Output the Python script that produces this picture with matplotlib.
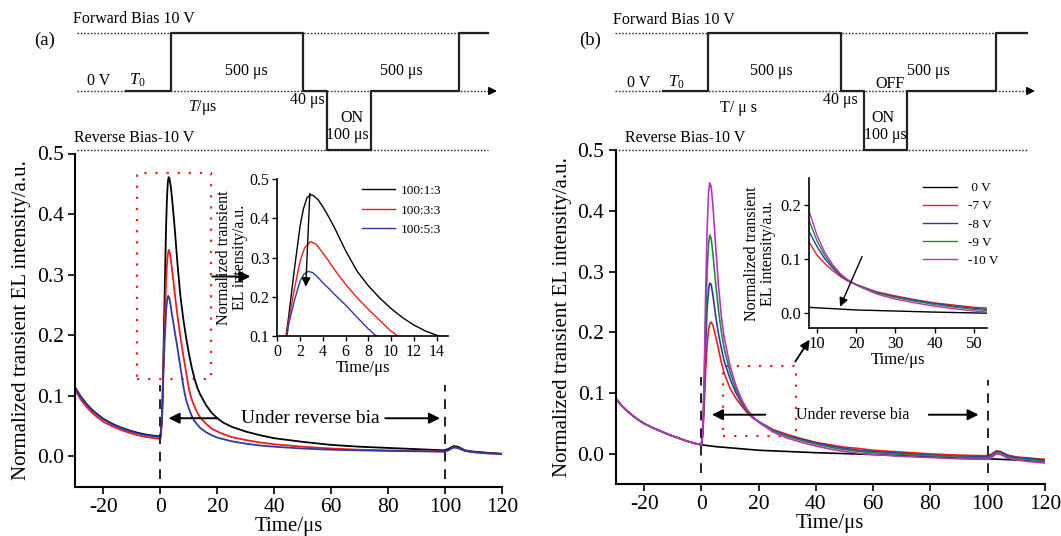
import matplotlib
matplotlib.use('Agg')
import matplotlib.pyplot as plt
from matplotlib.patches import Rectangle

plt.rcParams['font.family'] = ['Liberation Serif', 'DejaVu Serif']
plt.rcParams['mathtext.fontset'] = 'custom'
plt.rcParams['mathtext.rm'] = 'Liberation Serif'
plt.rcParams['mathtext.it'] = 'Liberation Serif:italic'
plt.rcParams['axes.unicode_minus'] = False

# ---------------- data: panel (a) ----------------
pre_t = [-30, -28, -26, -24, -22, -20, -17, -14, -11, -8, -5, -2, 0]
a_pre_black = [0.114, 0.099, 0.087, 0.077, 0.069, 0.062, 0.054, 0.048, 0.043, 0.039, 0.036, 0.034, 0.033]
a_pre_red = [0.110, 0.094, 0.082, 0.072, 0.064, 0.057, 0.050, 0.044, 0.039, 0.035, 0.032, 0.030, 0.029]
a_pre_blue = [0.114, 0.098, 0.086, 0.076, 0.068, 0.061, 0.053, 0.047, 0.042, 0.038, 0.035, 0.033, 0.032]

a_black_t = [0.5, 0.77, 1, 1.5, 2, 2.3, 2.6, 2.9, 3.2, 3.6, 4, 4.5, 5, 5.5, 6, 7, 8, 9, 10, 11, 12, 13, 14,
             16, 18, 20, 22, 25, 30, 35, 40, 50, 60, 70, 80, 90, 99.5, 101, 103, 104.5, 107, 110, 115, 120]
a_black = [0.06, 0.10, 0.15, 0.27, 0.38, 0.425, 0.452, 0.461, 0.458, 0.447, 0.43, 0.405, 0.378, 0.348,
           0.318, 0.266, 0.228, 0.197, 0.17, 0.147, 0.128, 0.113, 0.102, 0.085, 0.072, 0.063, 0.056, 0.049,
           0.041, 0.035, 0.030, 0.024, 0.019, 0.016, 0.014, 0.012, 0.010, 0.012, 0.017, 0.016, 0.010, 0.008,
           0.006, 0.0045]
a_red_t = [0.5, 0.8, 1, 1.5, 2, 2.4, 2.9, 3.4, 4, 4.5, 5, 5.5, 6, 7, 8, 9, 10, 10.5, 11, 12, 13, 14, 16, 18,
           20, 22, 25, 30, 35, 40, 50, 60, 70, 80, 90, 99.5, 101, 103, 104.5, 107, 110, 115, 120]
a_red = [0.055, 0.10, 0.14, 0.22, 0.29, 0.325, 0.341, 0.335, 0.312, 0.292, 0.271, 0.251, 0.232, 0.198, 0.168,
         0.14, 0.112, 0.102, 0.094, 0.082, 0.072, 0.064, 0.054, 0.046, 0.041, 0.037, 0.032, 0.027, 0.023,
         0.020, 0.016, 0.013, 0.011, 0.010, 0.009, 0.008, 0.010, 0.015, 0.014, 0.009, 0.007, 0.005, 0.004]
a_blue_t = [0.5, 0.85, 1, 1.5, 2, 2.35, 2.7, 3.1, 3.5, 4, 4.5, 5, 5.5, 6, 7, 8, 8.5, 9, 10, 11, 12, 14, 16, 18,
            20, 25, 30, 35, 40, 50, 60, 70, 80, 90, 99.5, 101, 103, 104.5, 107, 110, 115, 120]
a_blue = [0.055, 0.10, 0.13, 0.19, 0.24, 0.258, 0.265, 0.262, 0.252, 0.236, 0.222, 0.207, 0.193, 0.179,
          0.148, 0.118, 0.105, 0.094, 0.079, 0.067, 0.058, 0.047, 0.040, 0.035, 0.031, 0.025, 0.021, 0.018,
          0.016, 0.013, 0.011, 0.010, 0.009, 0.0085, 0.008, 0.010, 0.015, 0.014, 0.009, 0.007, 0.005, 0.004]
a_labels = ['100:1:3', '100:3:3', '100:5:3']

# ---------------- data: panel (b) ----------------
b_pre = [0.092, 0.080, 0.071, 0.063, 0.056, 0.050, 0.043, 0.037, 0.031, 0.026, 0.021, 0.017, 0.015]
b_black_t = [0, 5, 10, 20, 30, 40, 50, 60, 70, 80, 90, 100, 110, 120]
b_black = [0.015, 0.012, 0.010, 0.006, 0.004, 0.002, 0.0005, -0.001, -0.003, -0.005, -0.007, -0.008, -0.010, -0.012]

b_t = [0.5, 1, 1.5, 2, 2.5, 2.9, 3.4, 4, 5, 6, 7, 8, 10, 12, 14, 16, 18, 20, 25, 30, 35, 40, 45, 50, 55,
       60, 70, 80, 90, 99.5, 101, 103, 104.5, 107, 110, 115, 120]
b_red = [0.03, 0.08, 0.14, 0.18, 0.205, 0.214, 0.217, 0.212, 0.193, 0.172, 0.15, 0.132, 0.108, 0.092, 0.079,
         0.068, 0.059, 0.053, 0.040, 0.032, 0.025, 0.019, 0.015, 0.011, 0.009,
         0.006, 0.003, 0.0, -0.002, -0.003, -0.001, 0.005, 0.004, -0.002, -0.005, -0.007, -0.009]
b_blue = [0.035, 0.10, 0.18, 0.24, 0.27, 0.281, 0.279, 0.262, 0.226, 0.197, 0.173, 0.152, 0.124, 0.101, 0.084,
          0.070, 0.060, 0.053, 0.039, 0.030, 0.024, 0.018, 0.013, 0.009, 0.006,
          0.004, 0.001, -0.002, -0.004, -0.005, -0.003, 0.004, 0.003, -0.003, -0.006, -0.008, -0.010]
b_green = [0.04, 0.12, 0.22, 0.30, 0.345, 0.36, 0.355, 0.33, 0.28, 0.235, 0.2, 0.172, 0.135, 0.107, 0.087,
           0.072, 0.061, 0.053, 0.038, 0.029, 0.022, 0.016, 0.011, 0.007, 0.004,
           0.002, -0.001, -0.003, -0.005, -0.007, -0.005, 0.002, 0.001, -0.005, -0.008, -0.010, -0.012]
b_magenta = [0.04, 0.14, 0.27, 0.37, 0.43, 0.446, 0.44, 0.41, 0.34, 0.275, 0.225, 0.19, 0.145, 0.113, 0.090,
             0.073, 0.061, 0.052, 0.036, 0.026, 0.019, 0.013, 0.008, 0.004, 0.001,
             -0.001, -0.004, -0.006, -0.008, -0.009, -0.007, 0.0, -0.001, -0.007, -0.010, -0.013, -0.015]
b_labels = [' 0 V', '-7 V', '-8 V', '-9 V', '-10 V']

# ---------------- schematic pulse waveform (volts vs. schematic position) ----------------
sch_levels = [0, 0, 10, 10, 0, 0, -10, -10, 0, 0, 10, 10]
sch_a_pos = [126, 171, 171, 303, 303, 327, 327, 371, 371, 459, 459, 488]
sch_b_pos = [663, 708, 708, 841, 841, 864, 864, 907, 907, 996, 996, 1027]

C_BLACK = '#000000'
C_RED = '#f01c1c'
C_BLUE = '#2c3aa8'
C_GREEN = '#1c8a40'
C_MAG = '#c030c0'

W, H = 1061, 536
fig = plt.figure(figsize=(W / 100, H / 100), dpi=100)
fig.patch.set_facecolor('white')


def frac(x0, y0, x1, y1):
    return [x0 / W, 1 - y1 / H, (x1 - x0) / W, (y1 - y0) / H]


def style_axes(ax, lab_size, lw=1.5):
    ax.set_facecolor('none')
    for s in ['top', 'right']:
        ax.spines[s].set_visible(False)
    for s in ['left', 'bottom']:
        ax.spines[s].set_linewidth(lw)
    ax.tick_params(direction='out', length=5, width=lw * 0.8, labelsize=lab_size, pad=3)


# ================= panel (a) main =================
axa = fig.add_axes(frac(75, 153.5, 502, 486.7))
style_axes(axa, 15.5)
axa.plot(pre_t + a_black_t, a_pre_black + a_black, color=C_BLACK, lw=1.3)
axa.plot(pre_t + a_red_t, a_pre_red + a_red, color=C_RED, lw=1.3)
axa.plot(pre_t + a_blue_t, a_pre_blue + a_blue, color=C_BLUE, lw=1.3)
axa.set_xlim(-30, 120)
axa.set_ylim(-0.05, 0.5)
axa.set_xticks([-20, 0, 20, 40, 60, 80, 100, 120])
axa.set_yticks([0.0, 0.1, 0.2, 0.3, 0.4, 0.5])
axa.set_yticklabels(['0.0', '0.1', '0.2', '0.3', '0.4', '0.5'])
axa.set_xlabel('Time/μs', fontsize=15, labelpad=0)
axa.set_ylabel('Normalized transient EL intensity/a.u.', fontsize=15, labelpad=4)
for tv in [0, 100]:
    axa.plot([tv, tv], [-0.038, 0.118], color='#222222', lw=1.4, ls=(0, (5, 4)))
axa.add_patch(Rectangle((-8.2, 0.128), 26.0, 0.340, fill=False, ec=C_RED, lw=1.6, ls=(0, (1, 4))))
ap = dict(arrowstyle='-|>', color='k', lw=1.4, mutation_scale=16, shrinkA=0, shrinkB=0)
axa.annotate('', xy=(2.9, 0.063), xytext=(20, 0.063), arrowprops=ap)
axa.annotate('', xy=(98.2, 0.063), xytext=(79, 0.063), arrowprops=ap)
axa.text(52.6, 0.063, 'Under reverse bia', fontsize=14, ha='center', va='center')
axa.annotate('', xy=(31.6, 0.297), xytext=(18.2, 0.297), arrowprops=ap)

# ================= panel (a) inset =================
ia = fig.add_axes(frac(277.3, 179.3, 448, 336))
style_axes(ia, 11.5, lw=1.2)
ia.tick_params(length=3.5, pad=2)
ia.plot(pre_t + a_black_t, a_pre_black + a_black, color=C_BLACK, lw=1.0, label=a_labels[0])
ia.plot(pre_t + a_red_t, a_pre_red + a_red, color=C_RED, lw=1.0, label=a_labels[1])
ia.plot(pre_t + a_blue_t, a_pre_blue + a_blue, color=C_BLUE, lw=1.0, label=a_labels[2])
ia.set_xlim(0, 15)
ia.set_ylim(0.1, 0.5)
ia.set_xticks(range(0, 15, 2))
ia.set_yticks([0.1, 0.2, 0.3, 0.4, 0.5])
ia.set_xlabel('Time/μs', fontsize=12, labelpad=0)
ia.set_ylabel('Normalized transient\nEL intensity/a.u.', fontsize=11.5, labelpad=1, linespacing=1.0)
ia.annotate('', xy=(2.5, 0.226), xytext=(2.86, 0.464),
            arrowprops=dict(arrowstyle='-|>', color='k', lw=1.0, mutation_scale=13, shrinkA=0, shrinkB=0))
ia.legend(loc='upper left', bbox_to_anchor=(0.494, 0.965), frameon=False, fontsize=9.5,
          handlelength=2.5, handletextpad=0.5, labelspacing=0.55, borderpad=0, borderaxespad=0)

# ================= panel (b) main =================
axb = fig.add_axes(frac(615.5, 150, 1045, 484.3))
style_axes(axb, 15.5)
axb.plot(pre_t + b_black_t, b_pre + b_black, color=C_BLACK, lw=1.2)
axb.plot(pre_t + b_t, b_pre + b_red, color=C_RED, lw=1.2)
axb.plot(pre_t + b_t, b_pre + b_blue, color=C_BLUE, lw=1.2)
axb.plot(pre_t + b_t, b_pre + b_green, color=C_GREEN, lw=1.2)
axb.plot(pre_t + b_t, b_pre + b_magenta, color=C_MAG, lw=1.2)
axb.set_xlim(-30, 120)
axb.set_ylim(-0.05, 0.5)
axb.set_xticks([-20, 0, 20, 40, 60, 80, 100, 120])
axb.set_yticks([0.0, 0.1, 0.2, 0.3, 0.4, 0.5])
axb.set_yticklabels(['0.0', '0.1', '0.2', '0.3', '0.4', '0.5'])
axb.set_xlabel('Time/μs', fontsize=15, labelpad=0)
axb.set_ylabel('Normalized transient EL intensity/a.u.', fontsize=15, labelpad=4)
axb.plot([0, 0], [-0.031, 0.127], color='#222222', lw=1.4, ls=(0, (5, 4)))
axb.plot([100, 100], [-0.032, 0.122], color='#222222', lw=1.4, ls=(0, (5, 4)))
axb.add_patch(Rectangle((7.4, 0.029), 25.8, 0.116, fill=False, ec=C_RED, lw=1.6, ls=(0, (1, 4))))
axb.annotate('', xy=(3.7, 0.0645), xytext=(22.3, 0.0645), arrowprops=ap)
axb.annotate('', xy=(96.8, 0.0645), xytext=(79.4, 0.0645), arrowprops=ap)
axb.text(53, 0.0645, 'Under reverse bia', fontsize=11.5, ha='center', va='center')
axb.annotate('', xy=(37.8, 0.188), xytext=(32.8, 0.152),
             arrowprops=dict(arrowstyle='-|>', color='k', lw=1.3, mutation_scale=14, shrinkA=0, shrinkB=0))

# ================= panel (b) inset =================
ib = fig.add_axes(frac(809, 178.3, 986.7, 328.3))
style_axes(ib, 12, lw=1.2)
ib.tick_params(length=3.5, pad=2)
ib.plot(pre_t + b_black_t, b_pre + b_black, color=C_BLACK, lw=1.0, label=b_labels[0])
ib.plot(pre_t + b_t, b_pre + b_red, color=C_RED, lw=1.0, label=b_labels[1])
ib.plot(pre_t + b_t, b_pre + b_blue, color=C_BLUE, lw=1.0, label=b_labels[2])
ib.plot(pre_t + b_t, b_pre + b_green, color=C_GREEN, lw=1.0, label=b_labels[3])
ib.plot(pre_t + b_t, b_pre + b_magenta, color=C_MAG, lw=1.0, label=b_labels[4])
ib.set_xlim(8, 53.2)
ib.set_ylim(-0.028, 0.25)
ib.set_xticks([10, 20, 30, 40, 50])
ib.set_yticks([0.0, 0.1, 0.2])
ib.set_xlabel('Time/μs', fontsize=12, labelpad=0)
ib.set_ylabel('Normalized transient\nEL intensity/a.u.', fontsize=11.5, labelpad=3, linespacing=1.0)
ib.annotate('', xy=(15.9, 0.012), xytext=(21.5, 0.105),
            arrowprops=dict(arrowstyle='-|>', color='k', lw=1.0, mutation_scale=13, shrinkA=0, shrinkB=0))
ib.legend(loc='upper left', bbox_to_anchor=(0.641, 0.975), frameon=False, fontsize=9.5,
          handlelength=2.6, handletextpad=0.8, labelspacing=0.45, borderpad=0, borderaxespad=0)

# ================= schematic waveforms (top band) =================
ov = fig.add_axes([0, 1 - 160 / H, 1, 160 / H])
ov.set_facecolor('none')
ov.axis('off')
ov.set_xlim(0, W)
ov.set_ylim(-69 / 5.85, 91 / 5.85)
dot = (0, (1.2, 1.2))
fs = 11.5
for x0, x1, xarr, pos, tag, tagx in [(77, 488, 497, sch_a_pos, '(a)', 45), (615, 1027, 1035, sch_b_pos, '(b)', 590)]:
    for lev in [10, -10]:
        ov.plot([x0, x1], [lev, lev], color='#333333', lw=1.0, ls=dot)
    ov.plot([x0, xarr - 6], [0, 0], color='#333333', lw=1.0, ls=dot)
    ov.annotate('', xy=(xarr, 0), xytext=(xarr - 8, 0),
                arrowprops=dict(arrowstyle='-|>', color='k', lw=1.0, mutation_scale=12, shrinkA=0, shrinkB=0))
    ov.plot(pos, sch_levels, color='#222222', lw=1.6)
    ov.text(tagx, 8.6, tag, fontsize=13.5, ha='center', va='center')


def sy(py):
    return (91 - py) / 5.85


# panel (a) schematic texts
ov.text(73, sy(19), 'Forward Bias 10 V', fontsize=fs, ha='left', va='center')
ov.text(87, sy(81), '0 V', fontsize=fs, ha='left', va='center')
ov.text(129, sy(80), r'$T_\mathrm{0}$', fontsize=fs + 0.5, ha='left', va='center')
ov.text(246, sy(71), '500 μs', fontsize=fs, ha='center', va='center')
ov.text(401, sy(71), '500 μs', fontsize=fs, ha='center', va='center')
ov.text(203, sy(107.5), r'$T$/μs', fontsize=fs, ha='center', va='center')
ov.text(307.5, sy(100), '40 μs', fontsize=fs, ha='center', va='center')
ov.text(352, sy(118), 'ON', fontsize=fs, ha='center', va='center')
ov.text(347.5, sy(135), '100 μs', fontsize=fs, ha='center', va='center')
ov.text(74, sy(138), 'Reverse Bias-10 V', fontsize=fs, ha='left', va='center')

# panel (b) schematic texts
ov.text(613, sy(20), 'Forward Bias 10 V', fontsize=fs, ha='left', va='center')
ov.text(627, sy(83), '0 V', fontsize=fs, ha='left', va='center')
ov.text(668, sy(82), r'$T_\mathrm{0}$', fontsize=fs + 0.5, ha='left', va='center')
ov.text(771.5, sy(71), '500 μs', fontsize=fs, ha='center', va='center')
ov.text(928.5, sy(71), '500 μs', fontsize=fs, ha='center', va='center')
ov.text(890, sy(84), 'OFF', fontsize=fs, ha='center', va='center')
ov.text(738, sy(107.5), 'T/ μ s', fontsize=fs, ha='center', va='center')
ov.text(840.5, sy(100), '40 μs', fontsize=fs, ha='center', va='center')
ov.text(883, sy(118), 'ON', fontsize=fs, ha='center', va='center')
ov.text(885, sy(135), '100 μs', fontsize=fs, ha='center', va='center')
ov.text(625, sy(138), 'Reverse Bias-10 V', fontsize=fs, ha='left', va='center')

fig.savefig('out.png', dpi=100, facecolor='white')
